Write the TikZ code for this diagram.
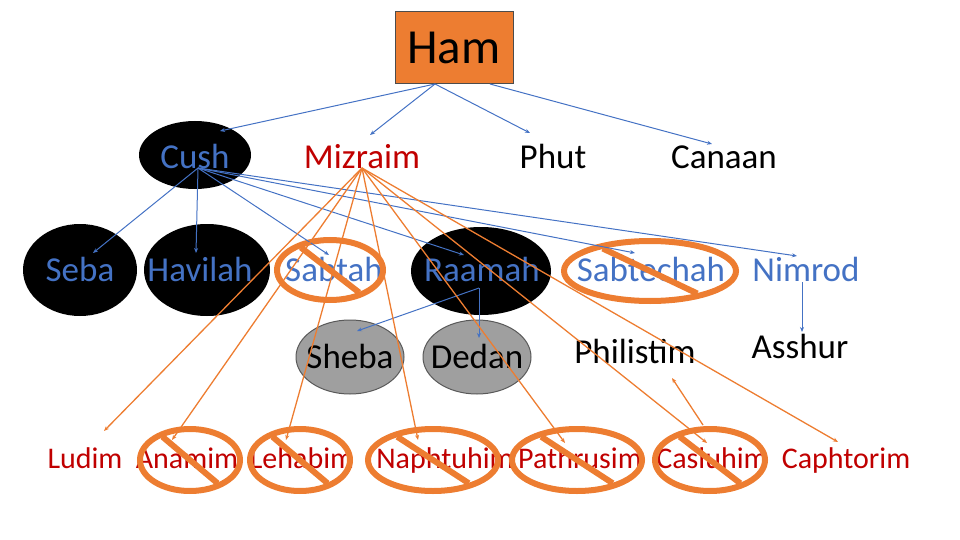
\documentclass[tikz,border=0pt]{standalone}
\usepackage{fontspec}
\setmainfont{Carlito}
\usetikzlibrary{arrows.meta}
\definecolor{bl}{RGB}{68,114,196}
\definecolor{og}{RGB}{237,125,49}
\definecolor{dr}{RGB}{192,0,0}
\newcommand\banring[4]{%
  \draw[og,line width=6pt] (#1,#2) ellipse ({#3} and {#4});
  \draw[og,line width=6pt] ({#1-0.55*#3},{#2-0.75*#4}) -- ({#1+0.55*#3},{#2+0.75*#4});}
\begin{document}
\begin{tikzpicture}[x=1pt,y=-1pt,
  lb/.style={font=\fontsize{35}{35}\selectfont,text height=0.7em,text depth=0.2em,inner sep=0pt,yshift=-9pt},
  lbs/.style={font=\fontsize{30}{30}\selectfont,text=dr,text height=0.7em,text depth=0.2em,inner sep=0pt,yshift=-8pt},
  ba/.style={bl,line width=1pt,-{Stealth[length=5pt,width=4pt]}},
  oa/.style={og,line width=1.3pt,-{Stealth[length=5pt,width=4pt]}}]
\useasboundingbox (0,0) rectangle (960,540);
% black / grey ellipses
\fill (195,155) ellipse (56 and 34);
\fill (80,270) ellipse (57 and 46);
\fill (207,270) ellipse (63 and 46);
\fill (481,271) ellipse (70 and 44);
\draw[gray!70!black,fill=gray!75,line width=1pt] (350,357) ellipse (54 and 37);
\draw[gray!70!black,fill=gray!75,line width=1pt] (477,357) ellipse (54 and 37);
% Ham
\node[draw=gray!60!black,fill=og,minimum width=118pt,minimum height=72pt,font=\fontsize{49}{49}\selectfont,line width=1pt] (ham) at (454,48) {Ham};
\node[lb,text=bl] (cush) at (195,157) {Cush};
\node[lb,text=dr] (miz) at (362,157) {Mizraim};
\node[lb] (phut) at (553,157) {Phut};
\node[lb] (can) at (724,157) {Canaan};
\node[lb,text=bl] (seba) at (80,270) {Seba};
\node[lb,text=bl] (hav) at (200,270) {Havilah};
\node[lb,text=bl] (sab) at (334,270) {Sabtah};
\node[lb,text=bl] (raa) at (482,270) {Raamah};
\node[lb,text=bl] (sabt) at (651,270) {Sabtechah};
\node[lb,text=bl] (nim) at (806,270) {Nimrod};
\node[lb] (she) at (350,357) {Sheba};
\node[lb] (ded) at (477,357) {Dedan};
\node[lb] (phil) at (635,352) {Philistim};
\node[lb] (ass) at (800,347) {Asshur};
\node[lbs] (lud) at (85,458) {Ludim};
\node[lbs] (ana) at (187,458) {Anamim};
\node[lbs] (leh) at (302,458) {Lehabim};
\node[lbs] (nap) at (445,458) {Naphtuhim};
\node[lbs] (pat) at (580,458) {Pathrusim};
\node[lbs] (cas) at (712,458) {Casluhim};
\node[lbs] (cap) at (846,458) {Caphtorim};
% rings
\banring{330}{270}{53}{30}
\banring{650}{271}{86}{30}
\banring{190}{460}{50}{31}
\banring{300}{460}{50}{31}
\banring{433}{460}{65}{31}
\banring{577}{460}{65}{31}
\banring{710}{460}{55}{31}
% coordinates
\coordinate (h1) at (435,84);
\coordinate (h2) at (490,84);
\coordinate (c0) at (198,168);
\coordinate (m0) at (362,168);
\coordinate (r0) at (479,288);
% Ham arrows
\draw[ba] (h1) -- (220,131);
\draw[ba] (h1) -- (370,135);
\draw[ba] (h1) -- (530,133);
\draw[ba] (h2) -- (712,144);
% Cush arrows
\draw[ba] (c0) -- (93,253);
\draw[ba] (c0) -- (196,253);
\draw[ba] (c0) -- (329,255);
\draw[ba] (c0) -- (464,255);
\draw[ba] (c0) -- (635,253);
\draw[ba] (c0) -- (797,256);
% Raamah
\draw[ba] (r0) -- (357,331);
\draw[ba] (r0) -- (479,338);
\draw[ba] (802,282) -- (802,332);
% Mizraim
\draw[oa] (m0) -- (104,431);
\draw[oa] (m0) -- (172,440);
\draw[oa] (m0) -- (286,440);
\draw[oa] (m0) -- (418,440);
\draw[oa] (m0) -- (565,443);
\draw[oa] (m0) -- (707,443);
\draw[oa] (m0) -- (838,442);
\draw[oa] (703,425) -- (672,378);
\end{tikzpicture}
\end{document}
